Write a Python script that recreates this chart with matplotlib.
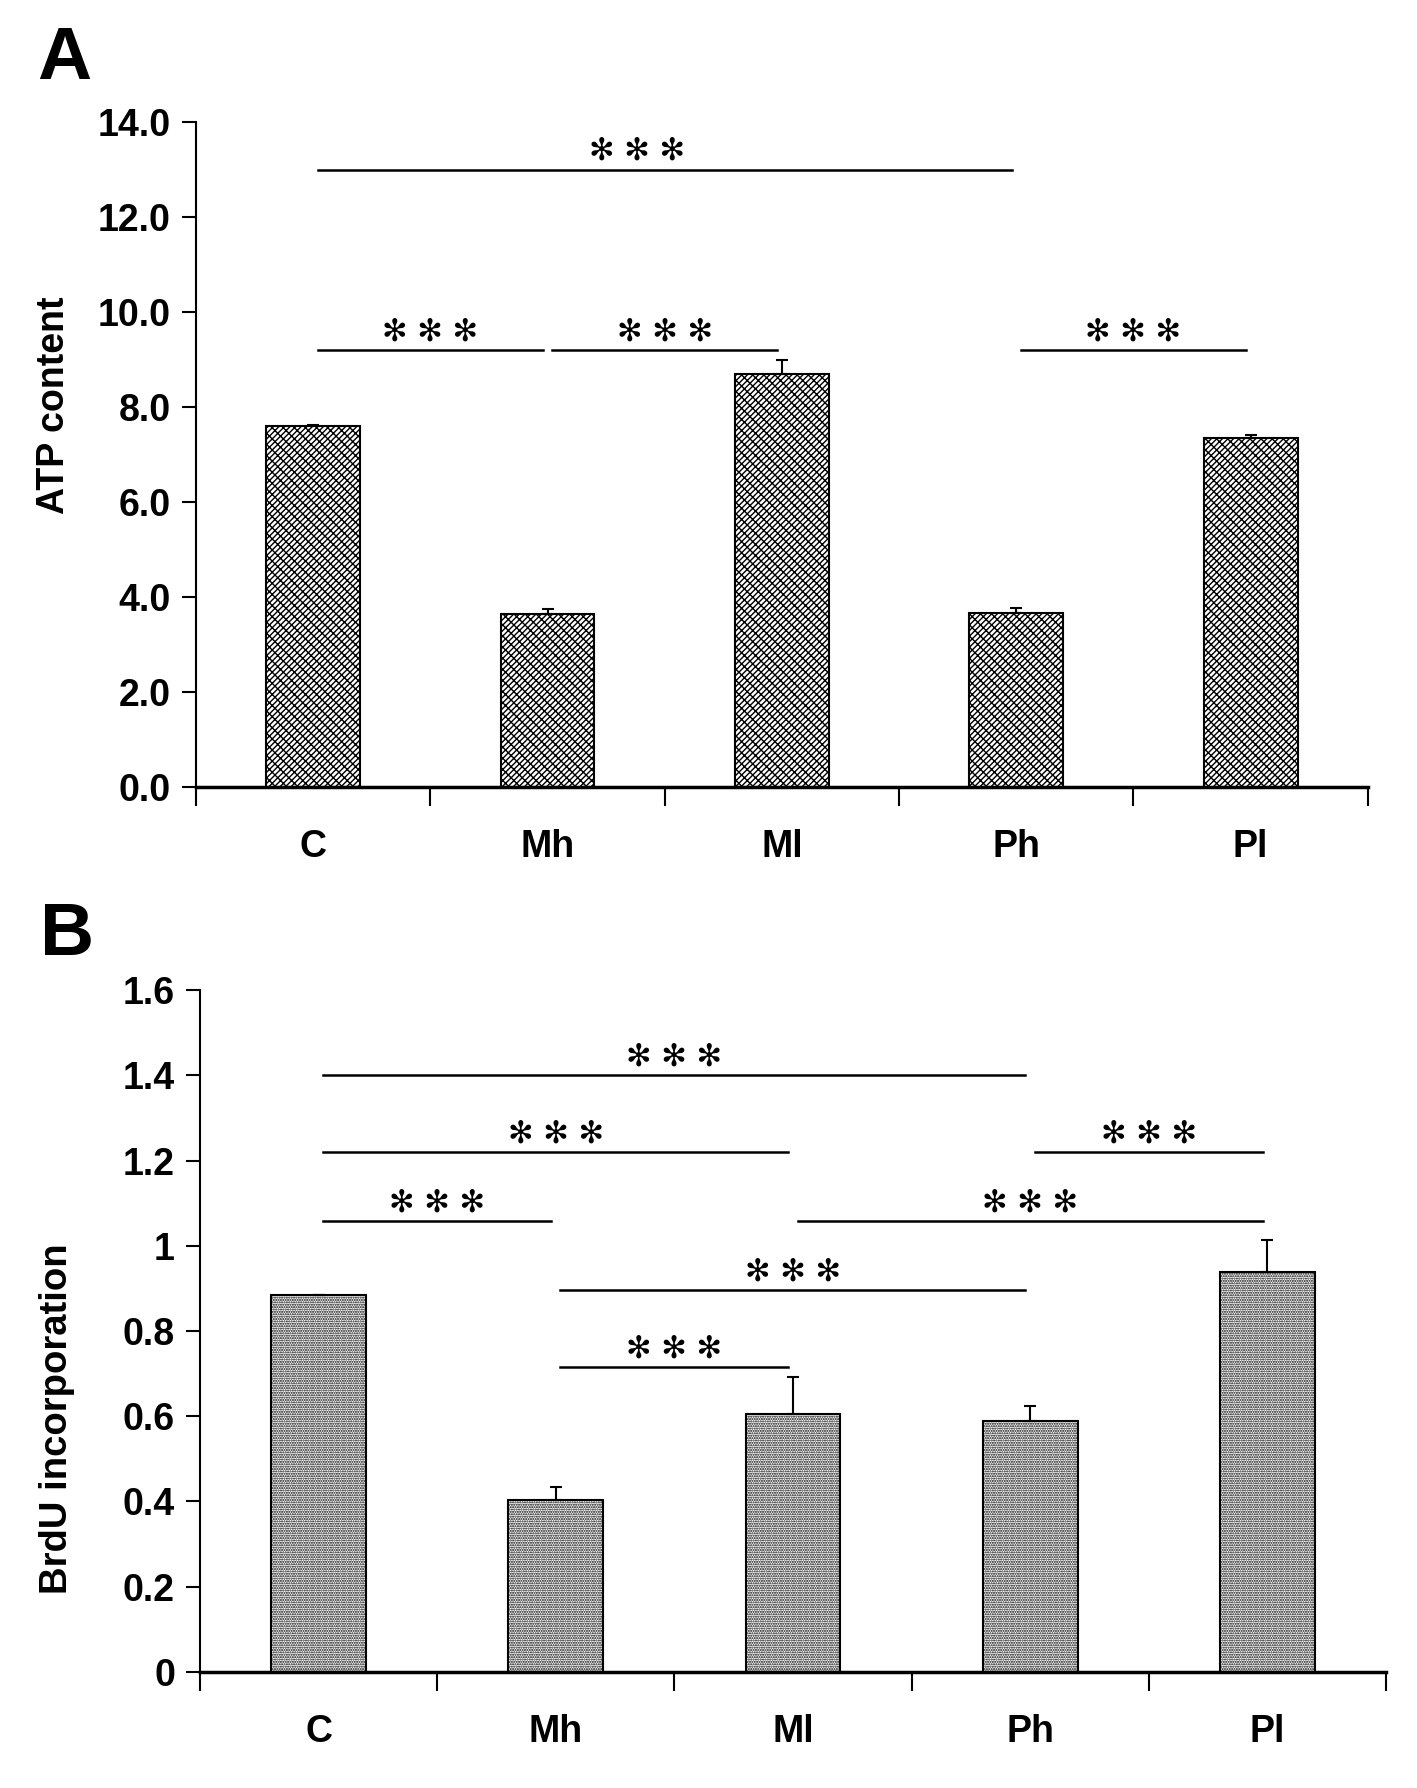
import matplotlib
matplotlib.use('Agg')
import matplotlib.pyplot as plt

plt.rcParams['font.family'] = ['Liberation Sans', 'DejaVu Sans']
plt.rcParams['font.weight'] = 'bold'
plt.rcParams['hatch.linewidth'] = 1.0

# data
cats = ['C', 'Mh', 'Ml', 'Ph', 'Pl']
atp = [7.60, 3.64, 8.70, 3.67, 7.35]
atp_err = [0.02, 0.10, 0.29, 0.10, 0.06]
brdu = [0.885, 0.403, 0.606, 0.588, 0.938]
brdu_err = [0.0, 0.030, 0.085, 0.036, 0.075]

# significance bars: (from, to, y level, star shift)
sig_a = [(0, 3, 13.0, -0.12), (0, 1, 9.2, 0), (1, 2, 9.2, 0), (3, 4, 9.2, 0)]
sig_b = [(0, 3, 1.40, 0), (0, 2, 1.22, 0), (3, 4, 1.22, 0), (0, 1, 1.057, 0),
         (2, 4, 1.057, 0), (1, 3, 0.897, 0), (1, 2, 0.715, 0)]

fig = plt.figure(figsize=(14.17, 17.88), dpi=100)
ax1 = fig.add_axes([0.1383, 0.5598, 0.827, 0.3719])
ax2 = fig.add_axes([0.1411, 0.0649, 0.837, 0.3814])


def draw(ax, vals, errs, sigs, hatch, ymax, ystep, fmt):
    xs = [i + 0.5 for i in range(len(cats))]
    ax.bar(xs, vals, width=0.4, color='white', edgecolor='black',
           linewidth=1.5, hatch=hatch, zorder=2)
    ax.errorbar(xs, vals, yerr=[[0] * len(errs), errs], fmt='none',
                ecolor='black', elinewidth=1.5, capsize=4, capthick=1.5, zorder=3)
    for i, j, y, dx in sigs:
        ax.plot([i + 0.52, j + 0.48], [y, y], color='black', lw=1.8, zorder=3)
        ax.annotate('\u273b \u273b \u273b', xy=((i + j) / 2 + 0.5 + dx, y),
                    xytext=(0, 13), textcoords='offset points',
                    ha='center', va='center', fontsize=22, weight='normal',
                    family='DejaVu Sans')
    ax.set_xlim(0, 5)
    ax.set_ylim(0, ymax)
    yt = [k * ystep for k in range(int(round(ymax / ystep)) + 1)]
    ax.set_yticks(yt)
    ax.set_yticklabels([fmt(v) for v in yt], fontsize=27, weight='bold')
    ax.set_xticks(range(6))
    ax.set_xticklabels([])
    for i, c in enumerate(cats):
        ax.annotate(c, xy=(i + 0.5, 0), xycoords=('data', 'axes fraction'),
                    xytext=(0, -43), textcoords='offset points',
                    ha='center', va='center', fontsize=27, weight='bold')
    ax.tick_params(axis='x', direction='out', length=14, width=1.5)
    ax.tick_params(axis='y', direction='out', length=10, width=1.5, pad=8)
    for s in ['top', 'right']:
        ax.spines[s].set_visible(False)
    ax.spines['left'].set_linewidth(1.5)
    ax.spines['bottom'].set_linewidth(2.5)


draw(ax1, atp, atp_err, sig_a, '//////\\\\\\', 14.0, 2.0,
     lambda v: '%.1f' % v)
draw(ax2, brdu, brdu_err, sig_b, '.......', 1.6, 0.2,
     lambda v: '%g' % round(v, 1))

fig.text(0.038, 0.7735, 'ATP content', rotation=90, ha='center', va='center',
         fontsize=27, weight='bold')
fig.text(0.040, 0.2064, 'BrdU incorporation', rotation=90, ha='center',
         va='center', fontsize=27.5, weight='bold')

fig.text(0.026, 0.956, 'A', fontsize=54, weight='bold', va='baseline')
fig.text(0.028, 0.466, 'B', fontsize=54, weight='bold', va='baseline')

fig.savefig('out.png', dpi=100)
